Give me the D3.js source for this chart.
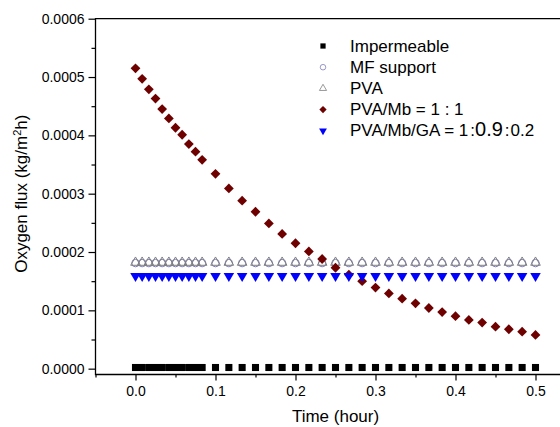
<!DOCTYPE html>
<html>
<head>
<meta charset="utf-8">
<script src="https://cdn.jsdelivr.net/npm/d3@7"></script>
<style>
  body { margin: 0; background: #fff; }
  text { font-family: "Liberation Sans", Arial, sans-serif; fill: #000; }
</style>
</head>
<body>
<div id="chart"></div>
<script>

// time in hours (every 30 s for the first 5 min, then every minute)
var times = [0, 0.0083, 0.0167, 0.025, 0.0333, 0.0417, 0.05, 0.0583, 0.0667, 0.075, 0.0833,
    0.1, 0.1167, 0.1333, 0.15, 0.1667, 0.1833, 0.2, 0.2167, 0.2333, 0.25,
    0.2667, 0.2833, 0.3, 0.3167, 0.3333, 0.35, 0.3667, 0.3833, 0.4, 0.4167,
    0.4333, 0.45, 0.4667, 0.4833, 0.5]

var impermeable = [0.000002, 0.000002, 0.000002, 0.000002, 0.000002, 0.000002, 0.000002, 0.000002, 0.000002, 0.000002, 0.000002,
    0.000002, 0.000002, 0.000002, 0.000002, 0.000002, 0.000002, 0.000002, 0.000002, 0.000002, 0.000002,
    0.000002, 0.000002, 0.000002, 0.000002, 0.000002, 0.000002, 0.000002, 0.000002, 0.000002, 0.000002,
    0.000002, 0.000002, 0.000002, 0.000002, 0.000002]

var mfSupport = [0.000181, 0.000181, 0.000181, 0.000181, 0.000181, 0.000181, 0.000181, 0.000181, 0.000181, 0.000181, 0.000181,
    0.000181, 0.000181, 0.000181, 0.000181, 0.000181, 0.000181, 0.000181, 0.000181, 0.000181, 0.000181,
    0.000181, 0.000181, 0.000181, 0.000181, 0.000181, 0.000181, 0.000181, 0.000181, 0.000181, 0.000181,
    0.000181, 0.000181, 0.000181, 0.000181, 0.000181]

var pva = [0.000182, 0.000182, 0.000182, 0.000182, 0.000182, 0.000182, 0.000182, 0.000182, 0.000182, 0.000182, 0.000182,
    0.000182, 0.000182, 0.000182, 0.000182, 0.000182, 0.000182, 0.000182, 0.000182, 0.000182, 0.000182,
    0.000182, 0.000182, 0.000182, 0.000182, 0.000182, 0.000182, 0.000182, 0.000182, 0.000182, 0.000182,
    0.000182, 0.000182, 0.000182, 0.000182, 0.000182]

var pvaMb = [0.000515, 0.000497, 0.000479, 0.000463, 0.000445, 0.000429, 0.000413, 0.000401, 0.000385, 0.000372, 0.000358,
    0.000334, 0.000309, 0.000288, 0.000269, 0.000249, 0.000231, 0.000215, 0.000201, 0.000188, 0.000173,
    0.000161, 0.000150, 0.000139, 0.000129, 0.000120, 0.000112, 0.000104, 0.000097, 0.000090, 0.0000835,
    0.000079, 0.000072, 0.0000676, 0.0000635, 0.0000578]

var pvaMbGa = [0.000159, 0.000159, 0.000159, 0.000159, 0.000159, 0.000159, 0.000159, 0.000159, 0.000159, 0.000159, 0.000159,
    0.000159, 0.000159, 0.000159, 0.000159, 0.000159, 0.000159, 0.000159, 0.000159, 0.000159, 0.000159,
    0.000159, 0.000159, 0.000159, 0.000159, 0.000159, 0.000159, 0.000159, 0.000159, 0.000159, 0.000159,
    0.000159, 0.000159, 0.000159, 0.000159, 0.000159]

var xTicks = [0.0, 0.1, 0.2, 0.3, 0.4, 0.5]
var xMinorTicks = [-0.05, 0.05, 0.15, 0.25, 0.35, 0.45]
var yTicks = [0.0000, 0.0001, 0.0002, 0.0003, 0.0004, 0.0005, 0.0006]
var yMinorTicks = [0.00005, 0.00015, 0.00025, 0.00035, 0.00045, 0.00055]

var legendLabels = ['Impermeable', 'MF support', 'PVA', 'PVA/Mb = 1 : 1', 'PVA/Mb/GA = 1:0.9:0.2']


var width = 560
var height = 427

var svg = d3.select('#chart').append('svg')
    .attr('width', width)
    .attr('height', height)
    .style('display', 'block')

var x = d3.scaleLinear().domain([-0.05, 0.55]).range([95.5, 575.5])
var y = d3.scaleLinear().domain([-0.00001, 0.0006]).range([374.5, 18.7])

// frame (right side runs off the picture)
svg.append('path')
    .attr('d', 'M' + x(0.55) + ',' + y(0.0006) + 'H' + x(-0.05) + 'V' + y(-0.00001) + 'H' + x(0.55))
    .attr('fill', 'none')
    .attr('stroke', '#000')
    .attr('stroke-width', 1.3)

// x axis
var xAxis = svg.append('g').attr('transform', 'translate(0,' + y(-0.00001) + ')')
    .call(d3.axisBottom(x).tickValues(xTicks).tickSize(6).tickFormat(d3.format('.1f')))
var xMinor = svg.append('g').attr('transform', 'translate(0,' + y(-0.00001) + ')')
    .call(d3.axisBottom(x).tickValues(xMinorTicks).tickSize(3).tickFormat(''))

xAxis.selectAll('text')
    .attr('y', 12)
    .style('font-size', '14px')
    .style('font-family', '"Liberation Sans", Arial, sans-serif')

// y axis
var yAxis = svg.append('g').attr('transform', 'translate(' + x(-0.05) + ',0)')
    .call(d3.axisLeft(y).tickValues(yTicks).tickSize(7).tickFormat(d3.format('.4f')))
var yMinor = svg.append('g').attr('transform', 'translate(' + x(-0.05) + ',0)')
    .call(d3.axisLeft(y).tickValues(yMinorTicks).tickSize(4).tickFormat(''))

yAxis.selectAll('text')
    .attr('x', -11)
    .style('font-size', '14px')
    .style('font-family', '"Liberation Sans", Arial, sans-serif')

svg.selectAll('.domain').remove()
svg.selectAll('.tick line').attr('stroke-width', 1.2)

// axis titles
svg.append('text')
    .attr('x', x(0.25))
    .attr('y', 422)
    .attr('text-anchor', 'middle')
    .style('font-size', '17px')
    .text('Time (hour)')

var yTitle = svg.append('text')
    .attr('transform', 'translate(27,' + y(0.0003) + ') rotate(-90)')
    .attr('text-anchor', 'middle')
    .style('font-size', '17px')
yTitle.append('tspan').text('Oxygen flux (kg/m')
yTitle.append('tspan').attr('dy', -6).style('font-size', '11px').text('2')
yTitle.append('tspan').attr('dy', 6).text('h)')


// markers
var sym = function (type, size) { return d3.symbol().type(type).size(size) }

var series = [
    { values: impermeable, shape: d3.symbolSquare, size: 50, fill: '#000', stroke: 'none', rot: 0 },
    { values: mfSupport, shape: d3.symbolCircle, size: 44, fill: 'none', stroke: '#7f7fbf', rot: 0 },
    { values: pva, shape: d3.symbolTriangle, size: 40, fill: 'none', stroke: '#7f7f7f', rot: 0 },
    { values: pvaMb, shape: d3.symbolSquare, size: 48, fill: '#6e0000', stroke: 'none', rot: 45 },
    { values: pvaMbGa, shape: d3.symbolTriangle, size: 48, fill: '#0000ff', stroke: 'none', rot: 180 }
]

series.forEach(function (s) {
    svg.append('g').selectAll('path')
        .data(times)
        .enter()
        .append('path')
        .attr('d', sym(s.shape, s.size))
        .attr('transform', (t, i) => 'translate(' + x(t) + ',' + y(s.values[i]) + ') rotate(' + s.rot + ')')
        .attr('fill', s.fill)
        .attr('stroke', s.stroke)
        .attr('stroke-width', 1)
})


// legend
var legend = svg.append('g')

legendLabels.forEach(function (label, i) {
    var s = series[i]
    var ly = 46 + i * 21.2
    legend.append('path')
        .attr('d', sym(s.shape, s.size * 0.55))
        .attr('transform', 'translate(323,' + ly + ') rotate(' + s.rot + ')')
        .attr('fill', s.fill)
        .attr('stroke', s.stroke)
        .attr('stroke-width', 0.8)

    var txt = legend.append('text')
        .attr('x', 350)
        .attr('y', ly + 5.5)
        .style('font-size', '17px')

    if (i == 4) {
        txt.append('tspan').text('PVA/Mb/GA = 1')
        txt.append('tspan').attr('dx', 2).text(':')
        txt.append('tspan').style('font-size', '20px').text('0.9')
        txt.append('tspan').attr('dx', 2).text(':')
        txt.append('tspan').attr('dx', 1).text('0.2')
    } else {
        txt.text(label)
    }
})

</script>
</body>
</html>
